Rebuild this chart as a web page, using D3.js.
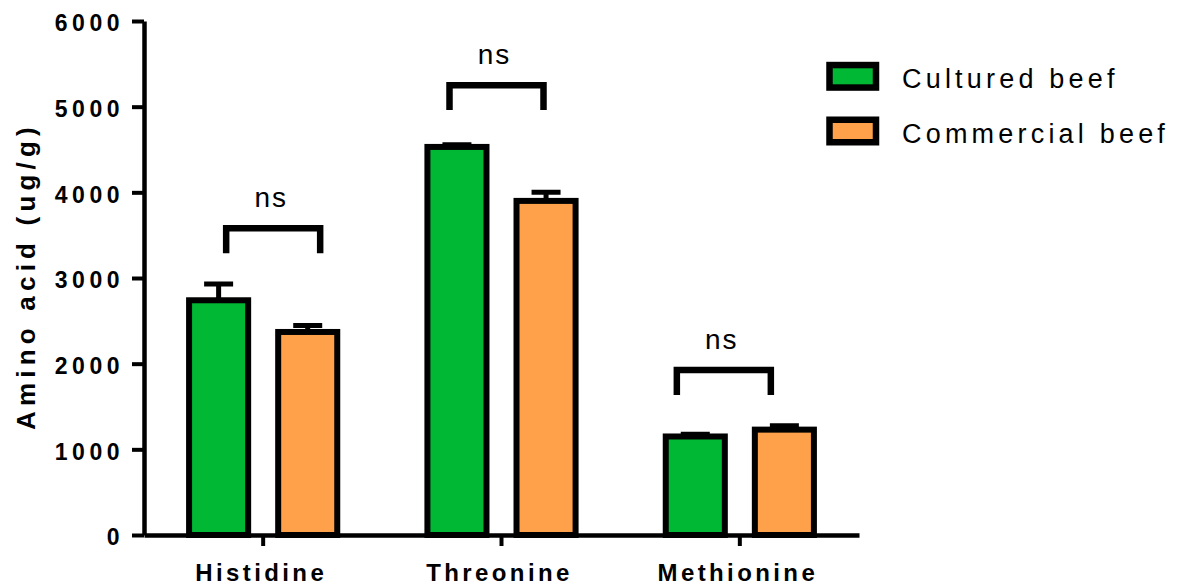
<!DOCTYPE html>
<html>
<head>
<meta charset="utf-8">
<script src="https://cdn.jsdelivr.net/npm/d3@7"></script>
<style>
  html, body { margin: 0; padding: 0; background: #fff; }
  svg { display: block; font-family: "Liberation Sans", Arial, sans-serif; }
</style>
</head>
<body>
<svg id="chart" width="1180" height="587"></svg>
<script>
// Amino acid content (ug/g), mean ± SEM
const categories = ["Histidine", "Threonine", "Methionine"];
const series = ["Cultured beef", "Commercial beef"];
const culturedMean = [2740, 4530, 1150];
const culturedSem = [190, 25, 25];
const commercialMean = [2370, 3900, 1230];
const commercialSem = [75, 100, 45];
const yTicks = [0, 1000, 2000, 3000, 4000, 5000, 6000];
const sigLabels = ["ns", "ns", "ns"];
const bracketLevel = [3580, 5250, 1925];

const colors = { "Cultured beef": "#00B834", "Commercial beef": "#FFA04B" };

// layout
const plot = { left: 144, right: 859, top: 21, bottom: 535 };
const bracketDrop = 290;            // leg length in data units
const bracketShift = [10, -5, -16]; // bracket centre offset from group centre (px)
const bracketWidth = 94;

const svg = d3.select("#chart");

const x = d3.scaleBand().domain(categories).range([plot.left, plot.right]).padding(0);
const xSub = d3.scaleBand().domain(series).range([0, x.bandwidth()])
  .paddingInner(0.337).paddingOuter(0.506);
const y = d3.scaleLinear().domain([0, 6000]).range([plot.bottom, plot.top]);

const rows = categories.map((c, i) => ({
  cat: c,
  values: [
    { s: series[0], v: culturedMean[i], e: culturedSem[i] },
    { s: series[1], v: commercialMean[i], e: commercialSem[i] }
  ]
}));

// y axis
const yAxis = svg.append("g")
  .attr("transform", `translate(${plot.left},0)`)
  .call(d3.axisLeft(y).tickValues(yTicks).tickFormat(d3.format("d"))
    .tickSize(12).tickSizeOuter(0).tickPadding(8));
yAxis.select(".domain").attr("stroke", "#000").attr("stroke-width", 4.5);
yAxis.selectAll(".tick line").attr("stroke", "#000").attr("stroke-width", 4);
yAxis.selectAll(".tick text")
  .attr("fill", "#000")
  .attr("font-size", 23)
  .attr("font-weight", "bold")
  .attr("letter-spacing", 4.5)
  .attr("dy", "0.42em")
  .style("font-family", "'Liberation Sans', Arial, sans-serif");

// y title
svg.append("text")
  .attr("transform", `translate(35,${(122 + 430) / 2}) rotate(-90)`)
  .attr("text-anchor", "middle")
  .attr("font-size", 26)
  .attr("font-weight", "bold")
  .attr("letter-spacing", 5.2)
  .attr("fill", "#000")
  .text("Amino acid (ug/g)");

// bars
const groups = svg.append("g").selectAll("g")
  .data(rows).join("g")
  .attr("transform", d => `translate(${x(d.cat)},0)`);

groups.selectAll("rect")
  .data(d => d.values).join("rect")
  .attr("x", d => xSub(d.s))
  .attr("y", d => y(d.v))
  .attr("width", xSub.bandwidth())
  .attr("height", d => y(0) - y(d.v))
  .attr("fill", d => colors[d.s])
  .attr("stroke", "#000")
  .attr("stroke-width", 6);

// error bars (upper only)
const capW = 29;
groups.selectAll("path.err")
  .data(d => d.values).join("path")
  .attr("class", "err")
  .attr("fill", "none")
  .attr("stroke", "#000")
  .attr("stroke-width", 5)
  .attr("d", d => {
    const cx = xSub(d.s) + xSub.bandwidth() / 2;
    return `M${cx},${y(d.v)}V${y(d.v + d.e)}M${cx - capW / 2},${y(d.v + d.e)}H${cx + capW / 2}`;
  });

// x axis
const xAxis = svg.append("g")
  .attr("transform", `translate(0,${plot.bottom})`)
  .call(d3.axisBottom(x).tickSize(11).tickSizeOuter(0).tickPadding(0));
xAxis.select(".domain").attr("stroke", "#000").attr("stroke-width", 4.5);
xAxis.selectAll(".tick line").attr("stroke", "#000").attr("stroke-width", 4);
xAxis.selectAll(".tick text")
  .attr("fill", "#000")
  .attr("y", 46)
  .attr("dy", 0)
  .attr("dx", -2)
  .attr("font-size", 24)
  .attr("font-weight", "bold")
  .attr("letter-spacing", 3.4)
  .style("font-family", "'Liberation Sans', Arial, sans-serif");

// significance brackets
const sig = svg.append("g");
categories.forEach((c, i) => {
  const cx = x(c) + x.bandwidth() / 2 + bracketShift[i];
  const x0 = cx - bracketWidth / 2, x1 = cx + bracketWidth / 2;
  const yt = y(bracketLevel[i]), yb = y(bracketLevel[i] - bracketDrop);
  sig.append("path")
    .attr("fill", "none")
    .attr("stroke", "#000")
    .attr("stroke-width", 6.5)
    .attr("stroke-linejoin", "miter")
    .attr("d", `M${x0},${yb}V${yt}H${x1}V${yb}`);
  sig.append("text")
    .attr("x", cx - 2)
    .attr("y", yt - 21)
    .attr("text-anchor", "middle")
    .attr("font-size", 28)
    .attr("letter-spacing", 2)
    .attr("fill", "#000")
    .text(sigLabels[i]);
});

// legend
const legend = svg.append("g");
series.forEach((s, i) => {
  const cy = 76.3 + i * 54.7;
  legend.append("rect")
    .attr("x", 829.5).attr("y", cy - 11.25)
    .attr("width", 46.5).attr("height", 22.5)
    .attr("fill", colors[s])
    .attr("stroke", "#000")
    .attr("stroke-width", 6.5);
  legend.append("text")
    .attr("x", 902)
    .attr("y", cy + 11.5)
    .attr("font-size", 27)
    .attr("letter-spacing", 4.2)
    .attr("fill", "#000")
    .text(s);
});
</script>
</body>
</html>
